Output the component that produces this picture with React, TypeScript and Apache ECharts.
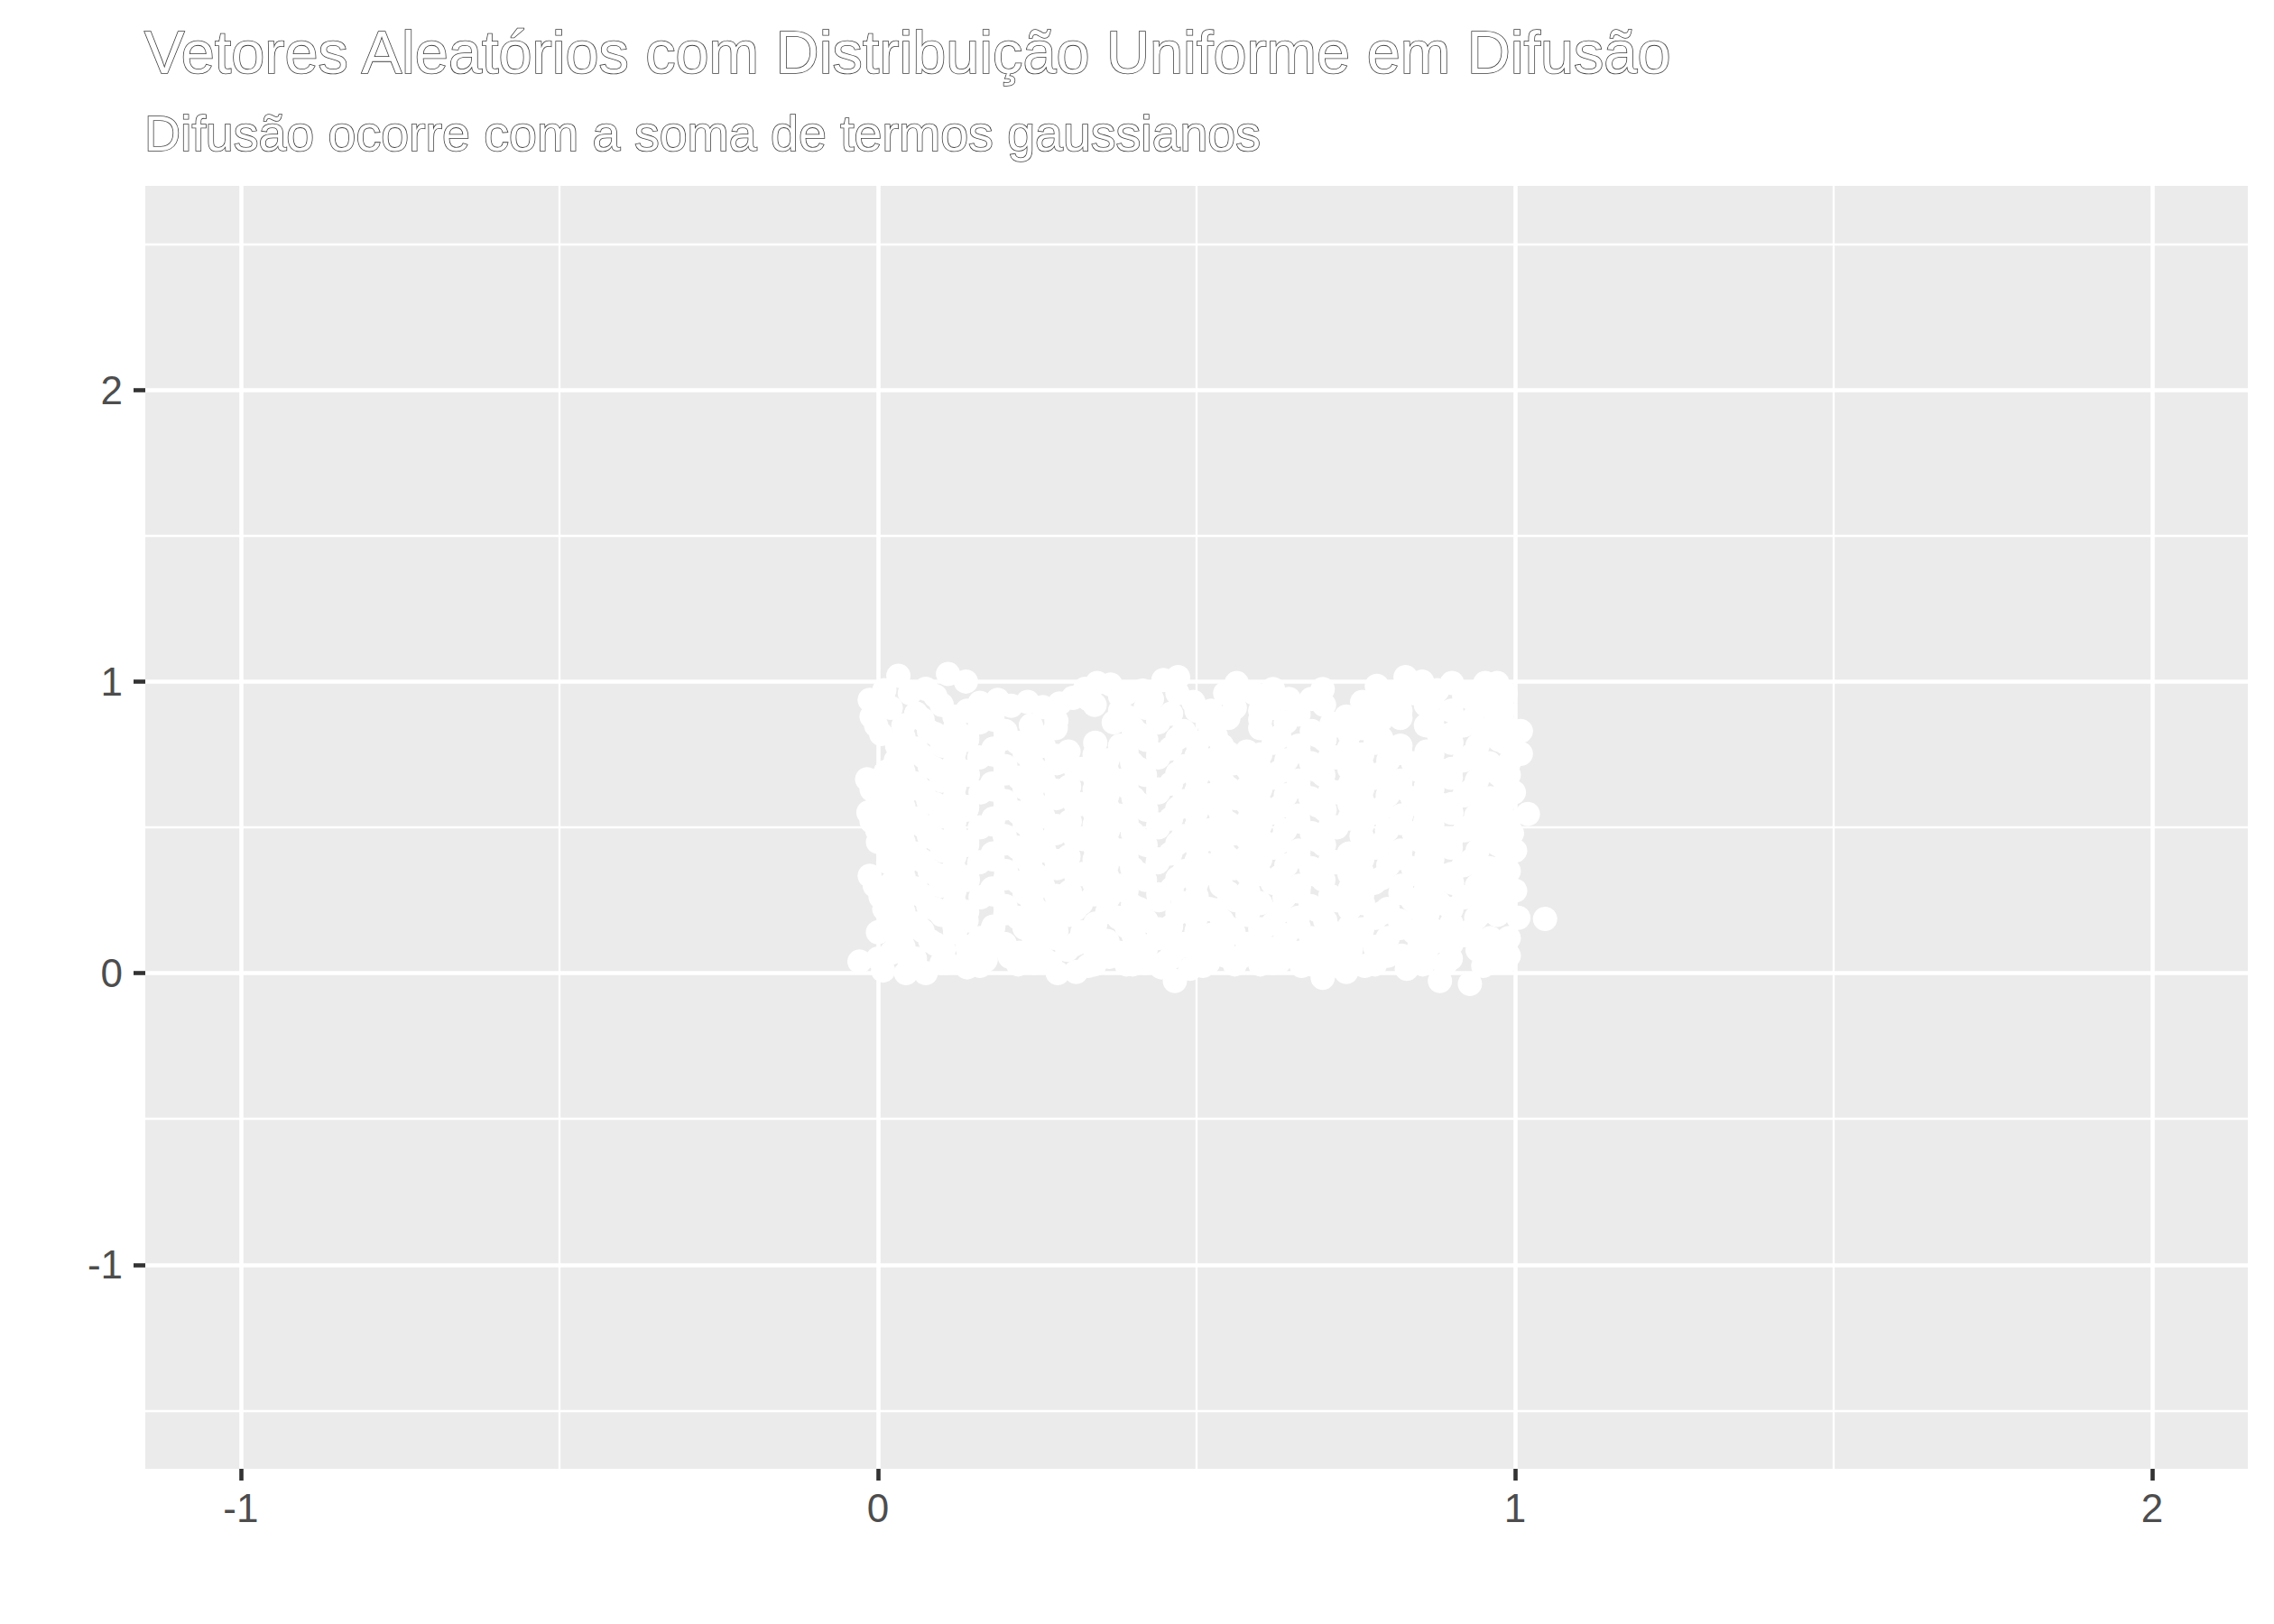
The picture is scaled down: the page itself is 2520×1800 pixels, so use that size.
import React, { useEffect, useRef } from "react";
import * as echarts from "echarts";

const titleText = "Vetores Aleatórios com Distribuição Uniforme em Difusão";
const subtitleText = "Difusão ocorre com a soma de termos gaussianos";

const xTicks = [-1, 0, 1, 2];
const yTicks = [-1, 0, 1, 2];
const xMinor = [-0.5, 0.5, 1.5];
const yMinor = [-1.5, -0.5, 0.5, 1.5, 2.5];
const xRange = [-1.15, 2.15];
const yRange = [-1.7, 2.7];

const bottomEdge = [
  [-0.029, 0.04], [0.008, 0.009], [0.044, 0.0], [0.075, 0.0], [0.108, 0.035], [0.14, 0.02], [0.169, 0.045],
  [0.207, 0.056], [0.245, 0.035], [0.282, 0.0], [0.311, 0.004], [0.34, 0.03], [0.363, 0.056], [0.39, 0.03],
  [0.419, 0.035], [0.445, 0.02], [0.466, -0.027], [0.49, 0.015], [0.518, 0.035], [0.545, 0.06], [0.57, 0.056],
  [0.6, 0.03], [0.63, 0.04], [0.665, 0.025], [0.698, -0.016], [0.735, 0.004], [0.764, 0.025], [0.8, 0.06],
  [0.83, 0.015], [0.855, 0.03], [0.882, -0.027], [0.929, -0.037], [0.962, 0.035], [0.99, 0.06],
];

const leftEdge = [
  [-0.013, 0.937], [-0.003, 0.85], [0.03, 0.78], [0.028, 0.73], [-0.017, 0.665], [-0.015, 0.551], [-0.001, 0.489],
  [0.016, 0.41], [0.016, 0.38], [-0.013, 0.334], [0.004, 0.262], [0.03, 0.18], [0.03, 0.097], [0.0, 0.6],
  [0.0, 0.05], [0.0, 0.14], [0.01, 0.22], [-0.005, 0.3], [0.0, 0.45], [-0.01, 0.52], [-0.01, 0.63],
  [0.012, 0.69], [0.005, 0.82], [-0.01, 0.88], [0.01, 0.97],
];

const rightEdge = [
  [1.009, 0.83], [1.009, 0.752], [0.998, 0.62], [1.02, 0.546], [1.0, 0.42], [1.0, 0.283], [1.005, 0.19],
  [1.047, 0.186], [0.981, 0.902], [0.99, 0.68], [0.995, 0.48], [0.99, 0.35], [0.99, 0.12], [0.985, 0.96],
  [0.985, 0.04], [0.98, 0.09], [0.985, 0.25], [0.98, 0.32], [0.985, 0.38], [0.978, 0.45], [0.99, 0.52],
  [0.98, 0.58], [0.985, 0.65], [0.99, 0.72], [0.985, 0.79], [0.98, 0.86], [0.978, 0.93],
];

const topEdge = [
  [0.032, 1.02], [0.075, 0.975], [0.11, 1.026], [0.138, 1.0], [0.16, 0.927], [0.188, 0.937], [0.209, 0.917],
  [0.235, 0.93], [0.259, 0.912], [0.285, 0.925], [0.306, 0.944], [0.325, 0.975], [0.344, 0.995], [0.365, 0.99],
  [0.39, 0.96], [0.415, 0.969], [0.448, 1.005], [0.471, 1.015], [0.495, 0.93], [0.523, 0.9], [0.545, 0.96],
  [0.563, 0.995], [0.59, 0.96], [0.62, 0.974], [0.645, 0.94], [0.66, 0.887], [0.698, 0.974], [0.712, 0.856],
  [0.735, 0.88], [0.76, 0.93], [0.783, 0.985], [0.81, 0.96], [0.828, 1.015], [0.854, 1.0], [0.878, 0.97],
  [0.901, 0.995], [0.93, 0.96], [0.953, 0.995], [0.972, 0.995],
  [0.05, 0.96], [0.09, 0.95], [0.33, 0.94], [0.38, 0.95], [0.43, 0.94], [0.47, 0.96], [0.56, 0.95],
  [0.6, 0.95], [0.68, 0.94], [0.8, 0.94], [0.84, 0.96], [0.87, 0.94], [0.92, 0.95], [0.96, 0.94],
];

const interiorLow = [
  [0.021, 0.07], [0.058, 0.05], [0.103, 0.08], [0.142, 0.06], [0.18, 0.09], [0.222, 0.07], [0.26, 0.05], [0.297, 0.08],
  [0.338, 0.09], [0.379, 0.07], [0.42, 0.08], [0.458, 0.05], [0.5, 0.07], [0.541, 0.1], [0.583, 0.08], [0.618, 0.05],
  [0.661, 0.07], [0.7, 0.06], [0.742, 0.08], [0.78, 0.09], [0.822, 0.06], [0.86, 0.07], [0.899, 0.05], [0.941, 0.08],
  [0.975, 0.06],
  [0.038, 0.13], [0.082, 0.11], [0.121, 0.14], [0.16, 0.12], [0.199, 0.1], [0.243, 0.13], [0.279, 0.12], [0.321, 0.14],
  [0.36, 0.11], [0.401, 0.13], [0.44, 0.12], [0.481, 0.1], [0.52, 0.13], [0.558, 0.14], [0.601, 0.11], [0.64, 0.13],
  [0.68, 0.12], [0.721, 0.1], [0.758, 0.13], [0.8, 0.12], [0.841, 0.14], [0.879, 0.11], [0.92, 0.13], [0.961, 0.12],
  [0.019, 0.19], [0.061, 0.17], [0.1, 0.2], [0.139, 0.18], [0.181, 0.16], [0.22, 0.19], [0.262, 0.18], [0.3, 0.2],
  [0.341, 0.17], [0.378, 0.19], [0.421, 0.18], [0.46, 0.16], [0.499, 0.19], [0.54, 0.18], [0.58, 0.2], [0.62, 0.17],
  [0.659, 0.19], [0.702, 0.18], [0.74, 0.16], [0.781, 0.19], [0.819, 0.18], [0.862, 0.2], [0.9, 0.17], [0.939, 0.19],
  [0.972, 0.2],
  [0.04, 0.25], [0.079, 0.23], [0.12, 0.24], [0.161, 0.26], [0.2, 0.23], [0.241, 0.25], [0.28, 0.22], [0.319, 0.24],
  [0.362, 0.26], [0.4, 0.23], [0.441, 0.25], [0.479, 0.24], [0.52, 0.22], [0.561, 0.25], [0.6, 0.24], [0.638, 0.26],
  [0.679, 0.23], [0.72, 0.25], [0.761, 0.24], [0.8, 0.22], [0.839, 0.25], [0.881, 0.24], [0.92, 0.26], [0.958, 0.23],
  [0.022, 0.31], [0.06, 0.29], [0.099, 0.3], [0.141, 0.32], [0.179, 0.29], [0.221, 0.31], [0.259, 0.3], [0.301, 0.28],
  [0.339, 0.31], [0.381, 0.3], [0.419, 0.32], [0.461, 0.29], [0.5, 0.31], [0.539, 0.3], [0.581, 0.28], [0.619, 0.31],
  [0.661, 0.3], [0.699, 0.32], [0.741, 0.29], [0.779, 0.31], [0.821, 0.3], [0.859, 0.28], [0.901, 0.31], [0.94, 0.3],
  [0.975, 0.31],
];

const interiorMid = [
  [0.041, 0.37], [0.081, 0.35], [0.119, 0.36], [0.159, 0.38], [0.201, 0.35], [0.239, 0.37], [0.281, 0.36], [0.32, 0.34],
  [0.359, 0.37], [0.399, 0.36], [0.439, 0.38], [0.481, 0.35], [0.519, 0.37], [0.559, 0.36], [0.599, 0.34], [0.641, 0.37],
  [0.68, 0.36], [0.719, 0.38], [0.759, 0.35], [0.801, 0.37], [0.84, 0.36], [0.879, 0.34], [0.919, 0.37], [0.96, 0.36],
  [0.02, 0.43], [0.059, 0.41], [0.101, 0.42], [0.14, 0.44], [0.18, 0.41], [0.219, 0.43], [0.261, 0.42], [0.299, 0.4],
  [0.341, 0.43], [0.38, 0.42], [0.42, 0.44], [0.459, 0.41], [0.501, 0.43], [0.541, 0.42], [0.579, 0.4], [0.621, 0.43],
  [0.66, 0.42], [0.7, 0.44], [0.739, 0.41], [0.781, 0.43], [0.82, 0.42], [0.861, 0.4], [0.899, 0.43], [0.941, 0.42],
  [0.974, 0.44],
  [0.039, 0.49], [0.08, 0.47], [0.121, 0.48], [0.16, 0.5], [0.199, 0.47], [0.24, 0.49], [0.279, 0.48], [0.321, 0.46],
  [0.361, 0.49], [0.4, 0.48], [0.44, 0.5], [0.479, 0.47], [0.521, 0.49], [0.56, 0.48], [0.601, 0.46], [0.639, 0.49],
  [0.681, 0.48], [0.72, 0.5], [0.759, 0.47], [0.799, 0.49], [0.841, 0.48], [0.88, 0.46], [0.921, 0.49], [0.959, 0.48],
  [0.021, 0.55], [0.061, 0.53], [0.099, 0.54], [0.139, 0.56], [0.181, 0.53], [0.22, 0.55], [0.259, 0.54], [0.301, 0.52],
  [0.34, 0.55], [0.379, 0.54], [0.421, 0.56], [0.46, 0.53], [0.499, 0.55], [0.539, 0.54], [0.58, 0.52], [0.619, 0.55],
  [0.659, 0.54], [0.701, 0.56], [0.74, 0.53], [0.779, 0.55], [0.821, 0.54], [0.859, 0.52], [0.9, 0.55], [0.939, 0.54],
  [0.973, 0.56],
  [0.04, 0.61], [0.079, 0.59], [0.12, 0.6], [0.161, 0.62], [0.2, 0.59], [0.241, 0.61], [0.28, 0.6], [0.319, 0.58],
  [0.36, 0.61], [0.401, 0.6], [0.44, 0.62], [0.48, 0.59], [0.52, 0.61], [0.561, 0.6], [0.6, 0.58], [0.64, 0.61],
  [0.679, 0.6], [0.721, 0.62], [0.76, 0.59], [0.8, 0.61], [0.839, 0.6], [0.881, 0.58], [0.92, 0.61], [0.961, 0.6],
];

const interiorHigh = [
  [0.02, 0.67], [0.06, 0.65], [0.1, 0.66], [0.141, 0.68], [0.179, 0.65], [0.221, 0.67], [0.26, 0.66], [0.3, 0.64],
  [0.34, 0.67], [0.381, 0.66], [0.419, 0.68], [0.46, 0.65], [0.5, 0.67], [0.54, 0.66], [0.581, 0.64], [0.62, 0.67],
  [0.66, 0.66], [0.699, 0.68], [0.741, 0.65], [0.78, 0.67], [0.82, 0.66], [0.86, 0.64], [0.899, 0.67], [0.94, 0.66],
  [0.975, 0.68],
  [0.039, 0.73], [0.081, 0.71], [0.12, 0.72], [0.159, 0.74], [0.2, 0.71], [0.24, 0.73], [0.281, 0.72], [0.32, 0.7],
  [0.36, 0.73], [0.399, 0.72], [0.44, 0.74], [0.481, 0.71], [0.52, 0.73], [0.559, 0.72], [0.6, 0.7], [0.641, 0.73],
  [0.68, 0.72], [0.719, 0.74], [0.76, 0.71], [0.801, 0.73], [0.84, 0.72], [0.879, 0.7], [0.92, 0.73], [0.96, 0.72],
  [0.06, 0.77], [0.101, 0.78], [0.14, 0.8], [0.181, 0.77], [0.219, 0.79], [0.26, 0.78], [0.299, 0.76],
  [0.341, 0.79], [0.38, 0.78], [0.421, 0.8], [0.459, 0.77], [0.501, 0.79], [0.54, 0.78], [0.579, 0.76], [0.621, 0.79],
  [0.66, 0.78], [0.701, 0.8], [0.739, 0.77], [0.781, 0.79], [0.82, 0.78], [0.861, 0.76], [0.9, 0.79], [0.941, 0.78],
  [0.975, 0.8],
  [0.04, 0.85], [0.08, 0.83], [0.121, 0.84], [0.16, 0.86], [0.2, 0.83], [0.24, 0.85], [0.279, 0.84], [0.37, 0.86],
  [0.4, 0.84], [0.44, 0.86], [0.48, 0.83], [0.52, 0.85], [0.6, 0.84], [0.64, 0.86], [0.681, 0.83], [0.72, 0.85],
  [0.76, 0.84], [0.79, 0.87], [0.86, 0.85], [0.88, 0.82], [0.92, 0.85], [0.96, 0.84],
  [0.02, 0.91], [0.06, 0.89], [0.1, 0.92], [0.14, 0.9], [0.18, 0.89], [0.34, 0.92], [0.38, 0.9], [0.42, 0.91],
  [0.46, 0.89], [0.5, 0.9], [0.56, 0.91], [0.6, 0.9], [0.62, 0.91], [0.7, 0.92], [0.78, 0.91], [0.82, 0.9],
  [0.86, 0.92], [0.9, 0.9], [0.94, 0.91], [0.97, 0.89],
];

const fillLow = [
  [0.05, 0.03], [0.1, 0.035], [0.16, 0.025], [0.22, 0.03], [0.27, 0.035], [0.33, 0.025], [0.4, 0.03], [0.45, 0.035],
  [0.51, 0.025], [0.56, 0.03], [0.62, 0.035], [0.68, 0.03], [0.72, 0.025], [0.78, 0.03], [0.84, 0.035], [0.89, 0.03],
  [0.95, 0.025],
  [0.04, 0.09], [0.09, 0.1], [0.14, 0.09], [0.2, 0.085], [0.25, 0.095], [0.31, 0.1], [0.36, 0.09], [0.41, 0.1],
  [0.47, 0.085], [0.53, 0.095], [0.58, 0.1], [0.63, 0.09], [0.69, 0.095], [0.74, 0.1], [0.79, 0.085], [0.85, 0.095],
  [0.9, 0.1], [0.95, 0.09],
  [0.02, 0.15], [0.07, 0.145], [0.12, 0.16], [0.18, 0.15], [0.23, 0.155], [0.28, 0.145], [0.34, 0.15], [0.39, 0.16],
  [0.44, 0.15], [0.5, 0.145], [0.55, 0.155], [0.6, 0.15], [0.66, 0.16], [0.71, 0.145], [0.76, 0.15], [0.82, 0.155],
  [0.87, 0.15], [0.93, 0.145],
  [0.04, 0.21], [0.09, 0.22], [0.14, 0.21], [0.2, 0.205], [0.25, 0.215], [0.31, 0.22], [0.36, 0.21], [0.41, 0.22],
  [0.47, 0.205], [0.53, 0.215], [0.58, 0.22], [0.63, 0.21], [0.69, 0.215], [0.74, 0.22], [0.79, 0.205], [0.85, 0.215],
  [0.9, 0.22], [0.95, 0.21],
  [0.02, 0.27], [0.07, 0.265], [0.12, 0.28], [0.18, 0.27], [0.23, 0.275], [0.28, 0.265], [0.34, 0.27], [0.39, 0.28],
  [0.44, 0.27], [0.5, 0.265], [0.55, 0.275], [0.66, 0.28], [0.71, 0.265], [0.76, 0.27], [0.82, 0.275],
  [0.87, 0.27], [0.93, 0.265], [0.97, 0.27],
  [0.04, 0.33], [0.09, 0.34], [0.14, 0.33], [0.2, 0.325], [0.25, 0.335], [0.31, 0.34], [0.36, 0.33], [0.41, 0.34],
  [0.47, 0.325], [0.53, 0.335], [0.58, 0.34], [0.63, 0.33], [0.69, 0.335], [0.74, 0.34], [0.79, 0.325], [0.85, 0.335],
  [0.9, 0.34], [0.95, 0.33],
  [0.02, 0.39], [0.07, 0.385], [0.12, 0.4], [0.18, 0.39], [0.23, 0.395], [0.28, 0.385], [0.34, 0.39], [0.39, 0.4],
  [0.44, 0.39], [0.5, 0.385], [0.55, 0.395], [0.6, 0.39], [0.66, 0.4], [0.71, 0.385], [0.76, 0.39], [0.82, 0.395],
  [0.87, 0.39], [0.93, 0.385],
];

const fillHigh = [
  [0.04, 0.45], [0.09, 0.46], [0.14, 0.45], [0.2, 0.445], [0.25, 0.455], [0.31, 0.46], [0.36, 0.45], [0.41, 0.46],
  [0.47, 0.445], [0.53, 0.455], [0.58, 0.46], [0.63, 0.45], [0.69, 0.455], [0.79, 0.445], [0.85, 0.455],
  [0.9, 0.46], [0.95, 0.45],
  [0.02, 0.51], [0.07, 0.505], [0.12, 0.52], [0.18, 0.51], [0.23, 0.515], [0.28, 0.505], [0.34, 0.51], [0.39, 0.52],
  [0.44, 0.51], [0.5, 0.505], [0.55, 0.515], [0.6, 0.51], [0.66, 0.52], [0.71, 0.505], [0.76, 0.51], [0.82, 0.515],
  [0.87, 0.51], [0.93, 0.505], [0.97, 0.51],
  [0.04, 0.57], [0.09, 0.58], [0.14, 0.57], [0.2, 0.565], [0.25, 0.575], [0.31, 0.58], [0.36, 0.57], [0.41, 0.58],
  [0.47, 0.565], [0.53, 0.575], [0.58, 0.58], [0.63, 0.57], [0.69, 0.575], [0.74, 0.58], [0.79, 0.565], [0.85, 0.575],
  [0.9, 0.58], [0.95, 0.57],
  [0.02, 0.63], [0.07, 0.625], [0.12, 0.64], [0.18, 0.63], [0.23, 0.635], [0.28, 0.625], [0.34, 0.63], [0.39, 0.64],
  [0.44, 0.63], [0.5, 0.625], [0.55, 0.635], [0.6, 0.63], [0.66, 0.64], [0.71, 0.625], [0.76, 0.63], [0.82, 0.635],
  [0.87, 0.63], [0.93, 0.625],
  [0.04, 0.69], [0.09, 0.7], [0.14, 0.69], [0.2, 0.685], [0.25, 0.695], [0.31, 0.7], [0.36, 0.69], [0.41, 0.7],
  [0.47, 0.685], [0.53, 0.695], [0.58, 0.7], [0.63, 0.69], [0.69, 0.695], [0.74, 0.7], [0.79, 0.685], [0.85, 0.695],
  [0.9, 0.7], [0.95, 0.69],
  [0.07, 0.745], [0.12, 0.76], [0.18, 0.75], [0.23, 0.755], [0.28, 0.745], [0.34, 0.75], [0.39, 0.76],
  [0.44, 0.75], [0.5, 0.745], [0.55, 0.755], [0.6, 0.75], [0.66, 0.76], [0.71, 0.745], [0.76, 0.75], [0.82, 0.755],
  [0.87, 0.75], [0.93, 0.745],
  [0.04, 0.81], [0.09, 0.82], [0.14, 0.81], [0.2, 0.805], [0.25, 0.815], [0.41, 0.82],
  [0.47, 0.805], [0.53, 0.815], [0.63, 0.81], [0.69, 0.815], [0.74, 0.82], [0.79, 0.805],
  [0.9, 0.82], [0.95, 0.81],
  [0.07, 0.87], [0.12, 0.88], [0.18, 0.87], [0.28, 0.865], [0.39, 0.88],
  [0.44, 0.87], [0.55, 0.875], [0.6, 0.87], [0.76, 0.87], [0.82, 0.875],
  [0.87, 0.87], [0.93, 0.865],
];

const FONT = "'Liberation Sans', Arial, Helvetica, sans-serif";

export default function App() {
  const ref = useRef<HTMLDivElement>(null);

  useEffect(() => {
    if (!ref.current) return;
    const chart = echarts.init(ref.current, null, { renderer: "svg" });
    const points = [
      ...bottomEdge, ...leftEdge, ...rightEdge, ...topEdge,
      ...interiorLow, ...interiorMid, ...interiorHigh, ...fillLow, ...fillHigh,
    ];

    const gridLines: any[] = [];
    xMinor.forEach((v) => gridLines.push({ xAxis: v, lineStyle: { width: 2.3 } }));
    yMinor.forEach((v) => gridLines.push({ yAxis: v, lineStyle: { width: 2.3 } }));
    xTicks.forEach((v) => gridLines.push({ xAxis: v, lineStyle: { width: 4.6 } }));
    yTicks.forEach((v) => gridLines.push({ yAxis: v, lineStyle: { width: 4.6 } }));

    const titleStyle = {
      color: "#FFFFFF",
      fontFamily: FONT,
      fontWeight: "normal" as const,
      textBorderColor: "#3C3C3C",
      textBorderWidth: 1.6,
    };

    const axisCommon = (ticks: number[], range: number[], margin: number) => ({
      type: "value",
      min: range[0],
      max: range[1],
      axisLine: { show: false, onZero: false },
      splitLine: { show: false },
      axisTick: { show: true, length: 13, lineStyle: { color: "#333333", width: 4.6 }, customValues: ticks },
      axisLabel: {
        customValues: ticks,
        color: "#4D4D4D",
        fontSize: 44,
        fontFamily: FONT,
        margin,
        formatter: (v: number) => String(v),
      },
    });

    chart.setOption({
      animation: false,
      backgroundColor: "#FFFFFF",
      title: [
        { text: titleText, left: 160, top: 24, padding: 0, textStyle: { ...titleStyle, fontSize: 66.6 } },
        { text: subtitleText, left: 160, top: 120, padding: 0, textStyle: { ...titleStyle, fontSize: 55.5 } },
      ],
      grid: {
        left: 161,
        right: 29,
        top: 206,
        bottom: 172,
        show: true,
        backgroundColor: "#EBEBEB",
        borderWidth: 0,
        containLabel: false,
      },
      xAxis: axisCommon(xTicks, xRange, 21),
      yAxis: axisCommon(yTicks, yRange, 25),
      series: [
        {
          type: "scatter",
          z: 3,
          symbol: "circle",
          symbolSize: 27,
          itemStyle: { color: "#FFFFFF", opacity: 1 },
          data: points,
          silent: true,
          markLine: {
            z: 1,
            silent: true,
            symbol: "none",
            label: { show: false },
            lineStyle: { color: "#FFFFFF", type: "solid", opacity: 1 },
            emphasis: { disabled: true },
            data: gridLines,
          },
        },
      ],
    });
    return () => chart.dispose();
  }, []);

  return <div ref={ref} style={{ position: "absolute", left: 0, top: 0, width: 2520, height: 1800 }} />;
}
